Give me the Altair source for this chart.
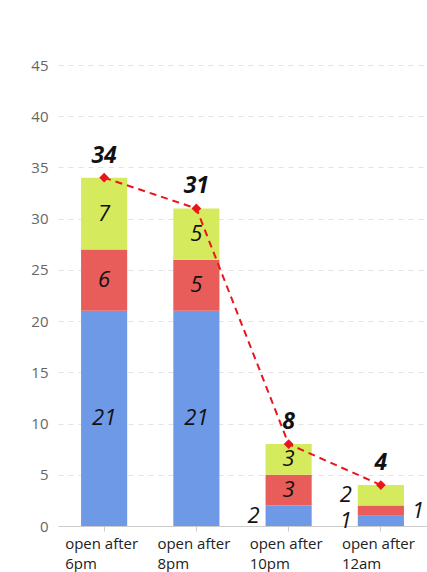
import altair as alt
import pandas as pd

# Categories and stacked segment values (bottom to top: blue, red, green)
categories = ["open after 6pm", "open after 8pm", "open after 10pm", "open after 12am"]
blue_values = [21, 21, 2, 1]
red_values = [6, 5, 3, 1]
green_values = [7, 5, 3, 2]
totals = [34, 31, 8, 4]

# Where each segment's label sits: inside the bar, or to its left/right
blue_label_side = ["in", "in", "left", "left"]
red_label_side = ["in", "in", "in", "right"]
green_label_side = ["in", "in", "in", "left"]

series_names = ["blue", "red", "green"]
series_colors = ["#6E99E6", "#E85C5A", "#D6EA5E"]

rows = []
for i, cat in enumerate(categories):
    base = 0
    for name, vals, sides in zip(
        series_names,
        [blue_values, red_values, green_values],
        [blue_label_side, red_label_side, green_label_side],
    ):
        v = vals[i]
        rows.append(
            {
                "category": cat,
                "series": name,
                "value": v,
                "y0": base,
                "y1": base + v,
                "mid": base + v / 2,
                "side": sides[i],
            }
        )
        base += v
seg = pd.DataFrame(rows)
tot = pd.DataFrame({"category": categories, "total": totals})

FONT = "Open Sans"

x_enc = alt.X(
    "category:N",
    sort=categories,
    scale=alt.Scale(paddingInner=0.5, paddingOuter=0.25),
    axis=alt.Axis(
        title=None,
        labelAngle=0,
        labelExpr="['open after', slice(datum.label, 11)]",
        labelAlign="left",
        labelOffset=-39,
        labelFontSize=15,
        labelColor="#222222",
        labelFont=FONT,
        labelLineHeight=20,
        labelPadding=5,
        tickSize=5,
        tickColor="#cccccc",
        domain=True,
        domainColor="#cccccc",
        grid=False,
    ),
)
y_scale = alt.Scale(domain=[0, 45], nice=False)
y_axis = alt.Axis(
    title=None,
    values=list(range(0, 46, 5)),
    labelFontSize=15,
    labelColor="#666666",
    labelFont=FONT,
    labelPadding=10,
    ticks=False,
    domain=False,
    grid=True,
    gridColor="#e2e2e2",
    gridDash=[5, 5],
)

# Shared encodings for the overlay layers
x_cat = alt.X("category:N", sort=categories)


def y_val(field):
    return alt.Y(field, scale=y_scale)


bars = alt.Chart(seg).mark_bar().encode(
    x=x_enc,
    y=alt.Y("y0:Q", scale=y_scale, axis=y_axis),
    y2="y1:Q",
    color=alt.Color(
        "series:N",
        scale=alt.Scale(domain=series_names, range=series_colors),
        legend=None,
    ),
)

label_style = dict(fontSize=22, font=FONT, fontStyle="italic", color="#111111", baseline="middle")

inside = alt.Chart(seg).transform_filter("datum.side == 'in'").mark_text(
    align="center", **label_style
).encode(x=x_cat, y=y_val("mid:Q"), text="value:Q")

left = alt.Chart(seg).transform_filter("datum.side == 'left'").mark_text(
    align="right", dx=-29, **label_style
).encode(x=x_cat, y=y_val("mid:Q"), text="value:Q")

right = alt.Chart(seg).transform_filter("datum.side == 'right'").mark_text(
    align="left", dx=31, **label_style
).encode(x=x_cat, y=y_val("mid:Q"), text="value:Q")

line = alt.Chart(tot).mark_line(
    color="#E8161B", strokeDash=[7, 5], strokeWidth=2
).encode(x=x_cat, y=y_val("total:Q"))

points = alt.Chart(tot).mark_point(
    shape="diamond", filled=True, color="#E8161B", size=95, opacity=1
).encode(x=x_cat, y=y_val("total:Q"))

total_labels = alt.Chart(tot).mark_text(
    fontSize=23, font=FONT, fontStyle="italic", fontWeight="bold",
    color="#111111", baseline="bottom", dy=-10,
).encode(x=x_cat, y=y_val("total:Q"), text="total:Q")

chart = (
    alt.layer(bars, inside, left, right, line, points, total_labels)
    .properties(
        width=369,
        height=461,
        background="white",
        autosize=alt.AutoSizeParams(type="none"),
        padding={"left": 58, "top": 65, "right": 0, "bottom": 46},
    )
    .configure_view(strokeWidth=0, stroke="transparent")
)

chart.save("out.html", embed_options={"renderer": "svg", "actions": False})
